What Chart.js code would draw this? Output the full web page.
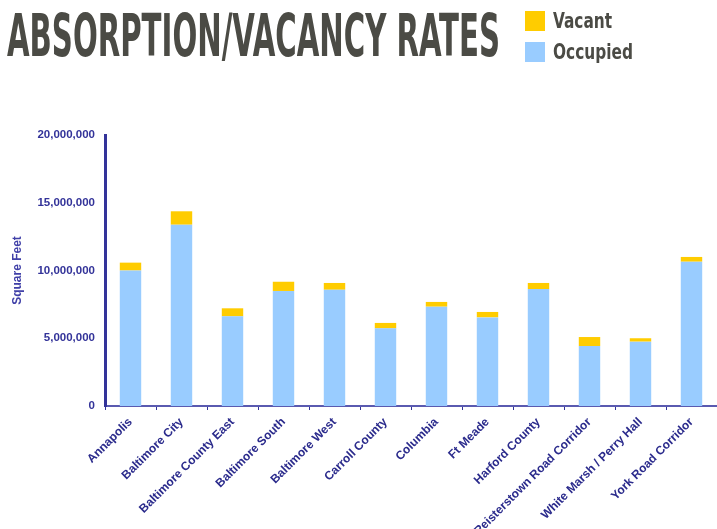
<!DOCTYPE html>
<html>
<head>
<meta charset="utf-8">
<script src="https://cdn.jsdelivr.net/npm/chart.js@4"></script>
<style>
  html, body { margin: 0; padding: 0; background: #ffffff; }
  #wrap { position: relative; width: 717px; height: 529px; overflow: hidden; }
  #c { position: absolute; left: 0; top: 0; }
  #title { position: absolute; left: 7px; top: 7px; margin: 0; font-family: "DejaVu Sans Condensed", "DejaVu Sans", sans-serif; font-weight: bold; font-size: 58px; line-height: 58px; color: #4b4b45; white-space: nowrap; transform-origin: 0 0; }
  .leg { position: absolute; left: 525px; font-family: "DejaVu Sans Condensed", "DejaVu Sans", sans-serif; font-weight: bold; font-size: 22px; line-height: 22px; color: #4b4b45; white-space: nowrap; }
  .leg i { position: absolute; left: 0; top: 0; width: 20px; height: 20px; }
  .leg span { position: absolute; left: 28px; top: -1px; transform-origin: 0 0; }
</style>
</head>
<body>
<div id="wrap">
  <canvas id="c" width="717" height="529"></canvas>
  <div id="title">ABSORPTION/VACANCY RATES</div>
  <div id="legend"></div>
</div>
<script>
const categories = ["Annapolis", "Baltimore City", "Baltimore County East", "Baltimore South", "Baltimore West", "Carroll County", "Columbia", "Ft Meade", "Harford County", "Reisterstown Road Corridor", "White Marsh / Perry Hall", "York Road Corridor"];
const occupied = [10000000, 13380000, 6620000, 8490000, 8580000, 5730000, 7330000, 6540000, 8630000, 4430000, 4750000, 10650000];
const vacant = [580000, 990000, 590000, 680000, 500000, 400000, 350000, 400000, 450000, 660000, 250000, 350000];
const yTicks = [0, 5000000, 10000000, 15000000, 20000000];
const seriesNames = ["Occupied", "Vacant"];
const seriesColors = ["#99CCFF", "#FFCC00"];

// title fit
const t = document.getElementById('title');
const w = t.getBoundingClientRect().width;
t.style.transform = 'scaleX(' + (493 / w) + ')';

// legend (Vacant on top, Occupied below)
const legend = document.getElementById('legend');
[[1, 11, 59], [0, 42, 80]].forEach(([idx, top, tw]) => {
  const d = document.createElement('div');
  d.className = 'leg';
  d.style.top = top + 'px';
  d.innerHTML = '<i style="background:' + seriesColors[idx] + '"></i><span>' + seriesNames[idx] + '</span>';
  legend.appendChild(d);
  const sp = d.querySelector('span');
  const sw = sp.getBoundingClientRect().width;
  sp.style.transform = 'scaleX(' + (tw / sw) + ')';
});

new Chart(document.getElementById('c'), {
  type: 'bar',
  data: {
    labels: categories,
    datasets: [
      { label: seriesNames[0], data: occupied, backgroundColor: seriesColors[0], borderWidth: 0, barPercentage: 0.42, categoryPercentage: 1 },
      { label: seriesNames[1], data: vacant, backgroundColor: seriesColors[1], borderWidth: 0, barPercentage: 0.42, categoryPercentage: 1 }
    ]
  },
  options: {
    responsive: false,
    animation: false,
    layout: { padding: { top: 135, left: 0, right: 0, bottom: 0 } },
    plugins: { legend: { display: false }, tooltip: { enabled: false }, title: { display: false } },
    scales: {
      x: {
        stacked: true,
        grid: { display: true, drawOnChartArea: false, drawTicks: true, tickLength: 4, color: '#333399', offset: true },
        border: { display: true, color: '#5a5ab0', width: 2 },
        ticks: {
          autoSkip: false, minRotation: 45, maxRotation: 45, padding: 5,
          color: '#2b2b8c',
          font: { family: '"Liberation Sans", Arial, sans-serif', weight: 'bold', size: 12 }
        },
        afterFit: (s) => { s.height = 123; }
      },
      y: {
        stacked: true,
        min: 0, max: 20000000,
        afterBuildTicks: (s) => { s.ticks = yTicks.map(v => ({ value: v })); },
        grid: { display: false, drawTicks: false },
        border: { display: true, color: '#333399', width: 3 },
        ticks: {
          padding: 10,
          color: '#333399',
          font: { family: '"Liberation Sans", Arial, sans-serif', weight: 'bold', size: 11.5 },
          callback: (v) => Number(v).toLocaleString('en-US')
        },
        title: {
          display: true, text: 'Square Feet', color: '#4040a8',
          padding: { top: 10, bottom: 0 },
          font: { family: '"Liberation Sans", Arial, sans-serif', weight: 'bold', size: 12 }
        },
        afterFit: (s) => { s.width = 105; }
      }
    }
  }
});
</script>
</body>
</html>
